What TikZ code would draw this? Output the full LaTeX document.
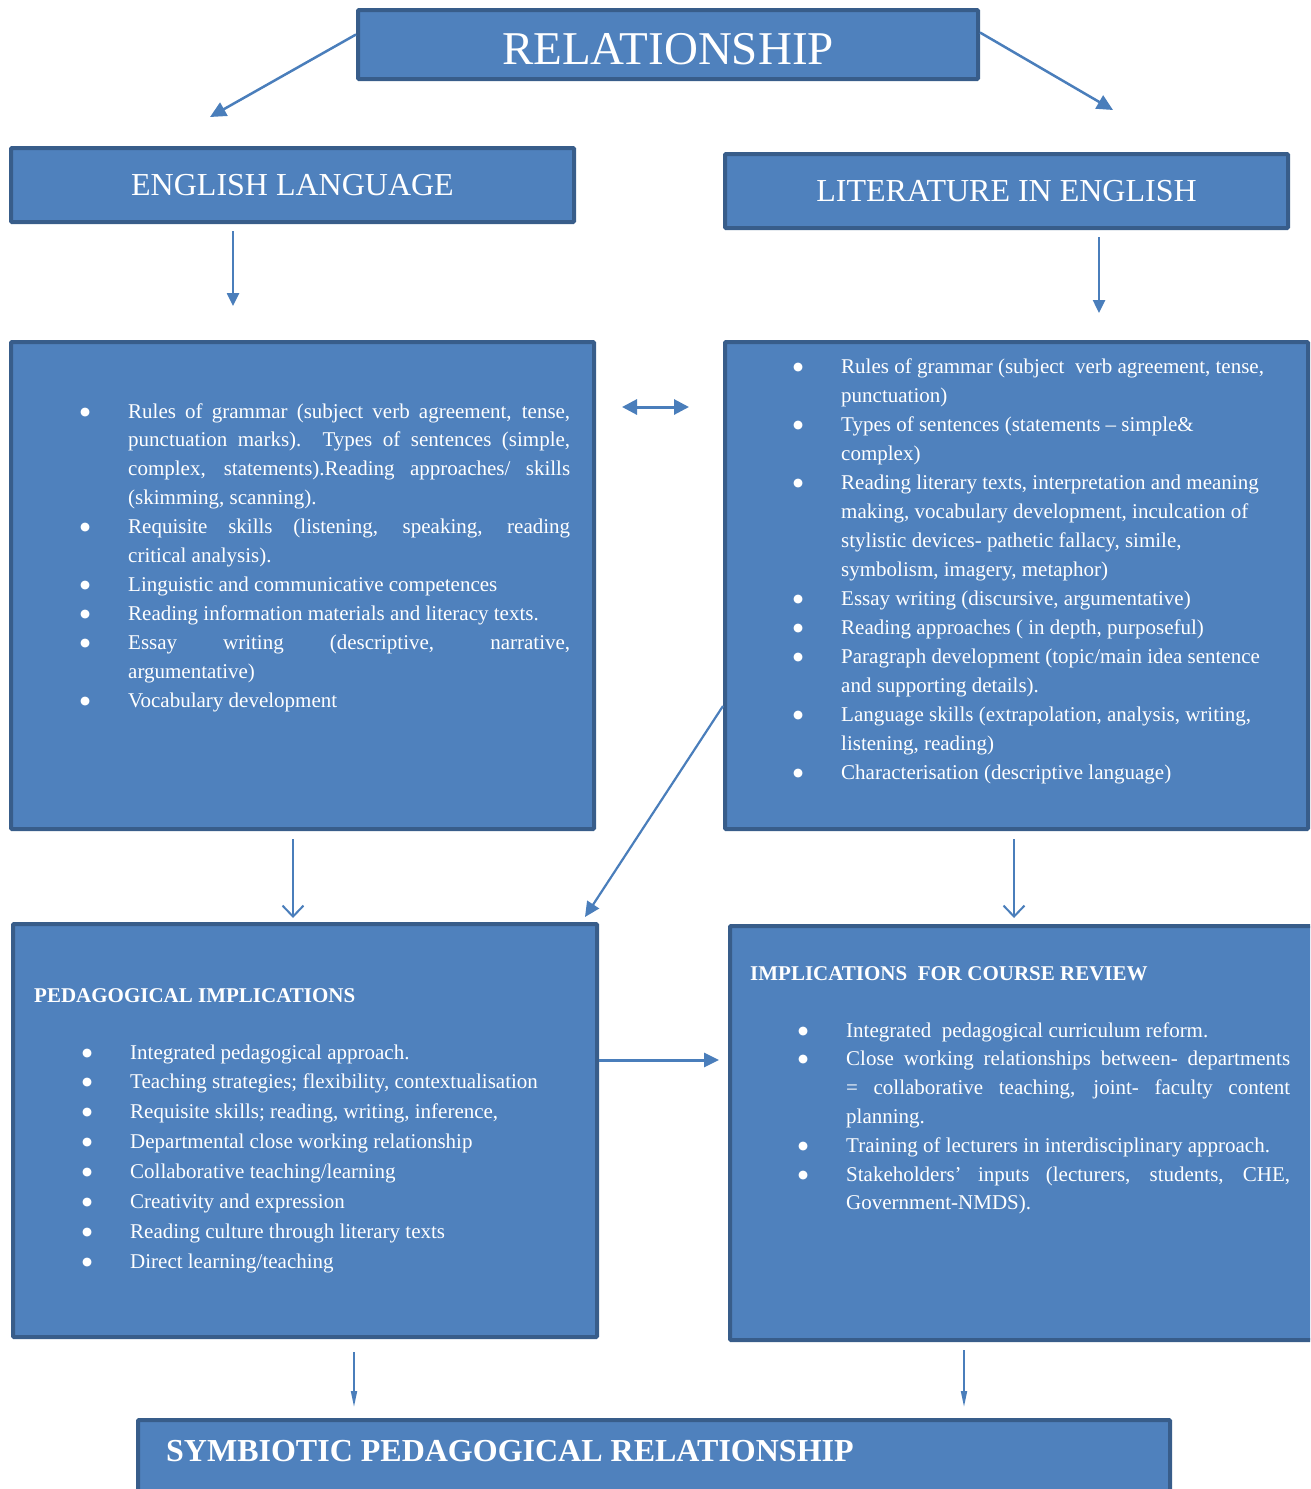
\documentclass[tikz,border=0pt]{standalone}
\usepackage{fontspec}
\setmainfont{Liberation Serif}
\newfontfamily\symfont{DejaVu Sans}
\usepackage{enumitem}
\usetikzlibrary{arrows.meta}
\definecolor{boxfill}{HTML}{4F81BD}
\definecolor{boxline}{HTML}{385D8A}
\definecolor{arrowc}{HTML}{4A7EBB}
\newcommand\bigbullet{\raisebox{3pt}{\symfont\fontsize{11.5}{12}\selectfont ●}}
\setlist[itemize]{label=\bigbullet, leftmargin=48pt, labelindent=0pt, labelwidth=20pt, labelsep=28pt, align=left, itemsep=0pt, parsep=0pt, topsep=0pt, partopsep=0pt}
\newcommand\bodyfont[1]{\fontsize{21}{#1}\selectfont\tolerance=10000\hbadness=10000}
\tikzset{
  box/.style={draw=boxline, line width=4pt, fill=boxfill, anchor=north west, inner sep=0pt, text=white, rounded corners=1pt},
  headfont/.style={font=\fontsize{32}{36}\selectfont},
  lst/.style={text=white, inner sep=0pt, anchor=base west},
  arrbig/.style={draw=arrowc, line width=2.5pt, -{Triangle[length=16pt,width=15pt]}},
  arrmid/.style={draw=arrowc, line width=2.5pt, -{Triangle[length=13pt,width=12pt]}},
  arrboth/.style={draw=arrowc, line width=3pt, {Triangle[length=15pt,width=15pt]}-{Triangle[length=15pt,width=15pt]}},
  arrbarb/.style={draw=arrowc, line width=2pt, -{Straight Barb[length=11pt,width=21pt]}},
  arrthin/.style={draw=arrowc, line width=1.8pt, -{Triangle[length=16pt,width=6pt]}},
}
\begin{document}
\begin{tikzpicture}[x=1pt,y=-1pt]
\useasboundingbox (0,0) rectangle (1310,1489);
\clip (0,0) rectangle (1310,1489);

% boxes
\node[box, minimum width=620pt, minimum height=69pt, text height=39pt, text depth=0pt, font=\fontsize{47}{50}\selectfont] (rel) at (356,8) {RELATIONSHIP};
\node[box, headfont, minimum width=563pt, minimum height=74pt] (eng) at (9,146) {ENGLISH LANGUAGE};
\node[box, headfont, minimum width=563pt, minimum height=74pt] (lit) at (723,152) {LITERATURE IN ENGLISH};
\node[box, minimum width=583pt, minimum height=487pt] (engc) at (9,340) {};
\node[box, minimum width=583pt, minimum height=487pt] (litc) at (723,340) {};
\node[box, minimum width=584pt, minimum height=413pt] (ped) at (11,922) {};
\node[box, minimum width=600pt, minimum height=414pt] (imp) at (728,924) {};
\node[box, minimum width=1032pt, minimum height=100pt] (sym) at (136,1418) {};

% English language content
\node[lst] (engl) at (80,418) {\begin{minipage}[t]{490pt}\bodyfont{28.9}%
\begin{itemize}
\item Rules of grammar (subject verb agreement, tense,\linebreak punctuation marks).\ \ Types of sentences (simple,\linebreak complex, statements).Reading approaches/ skills\linebreak (skimming, scanning).
\item Requisite skills (listening, speaking, reading\linebreak critical analysis).
\item Linguistic and communicative competences
\item Reading information materials and literacy texts.
\item Essay writing (descriptive, narrative,\linebreak argumentative)
\item Vocabulary development
\end{itemize}\end{minipage}};

% Literature content
\node[lst] (litl) at (793,373) {\begin{minipage}[t]{500pt}\bodyfont{29}\raggedright
\begin{itemize}
\item Rules of grammar (subject~ verb agreement, tense,\newline punctuation)
\item Types of sentences (statements -- simple\&\newline complex)
\item Reading literary texts, interpretation and meaning\newline making, vocabulary development, inculcation of\newline stylistic devices- pathetic fallacy, simile,\newline symbolism, imagery, metaphor)
\item Essay writing (discursive, argumentative)
\item Reading approaches ( in depth, purposeful)
\item Paragraph development (topic/main idea sentence\newline and supporting details).
\item Language skills (extrapolation, analysis, writing,\newline listening, reading)
\item Characterisation (descriptive language)
\end{itemize}\end{minipage}};

% Pedagogical implications
\node[lst, font=\bfseries\fontsize{21}{24}\selectfont] (pedt) at (34,1002) {PEDAGOGICAL IMPLICATIONS};
\node[lst] (pedl) at (82,1059) {\begin{minipage}[t]{500pt}\bodyfont{29.86}\raggedright
\begin{itemize}
\item Integrated pedagogical approach.
\item Teaching strategies; flexibility, contextualisation
\item Requisite skills; reading, writing, inference,
\item Departmental close working relationship
\item Collaborative teaching/learning
\item Creativity and expression
\item Reading culture through literary texts
\item Direct learning/teaching
\end{itemize}\end{minipage}};

% Implications for course review
\node[lst, font=\bfseries\fontsize{21}{24}\selectfont] (impt) at (750,980) {IMPLICATIONS~ FOR COURSE REVIEW};
\node[lst] (impl) at (798,1037) {\begin{minipage}[t]{492pt}\bodyfont{28.8}%
\begin{itemize}
\item Integrated~ pedagogical curriculum reform.
\item Close working relationships between- departments\linebreak = collaborative teaching, joint- faculty content\linebreak planning.
\item Training of lecturers in interdisciplinary approach.
\item Stakeholders’ inputs (lecturers, students, CHE,\linebreak Government-NMDS).
\end{itemize}\end{minipage}};

% Symbiotic
\node[lst, font=\bfseries\fontsize{32}{36}\selectfont] (symt) at (166,1461) {SYMBIOTIC PEDAGOGICAL RELATIONSHIP};

% connectors
\coordinate (engin) at (210,117);
\coordinate (litin) at (1113,110);
\draw[arrbig] ([yshift=10pt]rel.west) -- (engin);
\draw[arrbig] ([yshift=12pt]rel.east) -- (litin);

\coordinate (engdn1) at (233,231);
\coordinate (engdn2) at (233,306);
\draw[arrmid] (engdn1) -- (engdn2);
\coordinate (litdn1) at (1099,237);
\coordinate (litdn2) at (1099,313);
\draw[arrmid] (litdn1) -- (litdn2);

\coordinate (dbl1) at (622,407);
\coordinate (dbl2) at (689,407);
\draw[arrboth] (dbl1) -- (dbl2);

\coordinate (peddn1) at (293,839);
\coordinate (peddn2) at (293,918);
\draw[arrbarb] (peddn1) -- (peddn2);
\coordinate (impdn1) at (1014,839);
\coordinate (impdn2) at (1014,918);
\draw[arrbarb] (impdn1) -- (impdn2);

\coordinate (diag1) at (723,706);
\coordinate (diag2) at (585,917);
\draw[arrbig, line width=2.2pt, -{Triangle[length=15pt,width=14pt]}] (diag1) -- (diag2);

\coordinate (horz) at (719,1060);
\draw[arrbig, line width=3pt, -{Triangle[length=15pt,width=14pt]}] (ped.east |- horz) -- (horz);

\coordinate (symdn1) at (354,1352);
\coordinate (symdn2) at (354,1407);
\draw[arrthin] (symdn1) -- (symdn2);
\coordinate (symdn3) at (964,1350);
\coordinate (symdn4) at (964,1407);
\draw[arrthin] (symdn3) -- (symdn4);
\end{tikzpicture}
\end{document}
